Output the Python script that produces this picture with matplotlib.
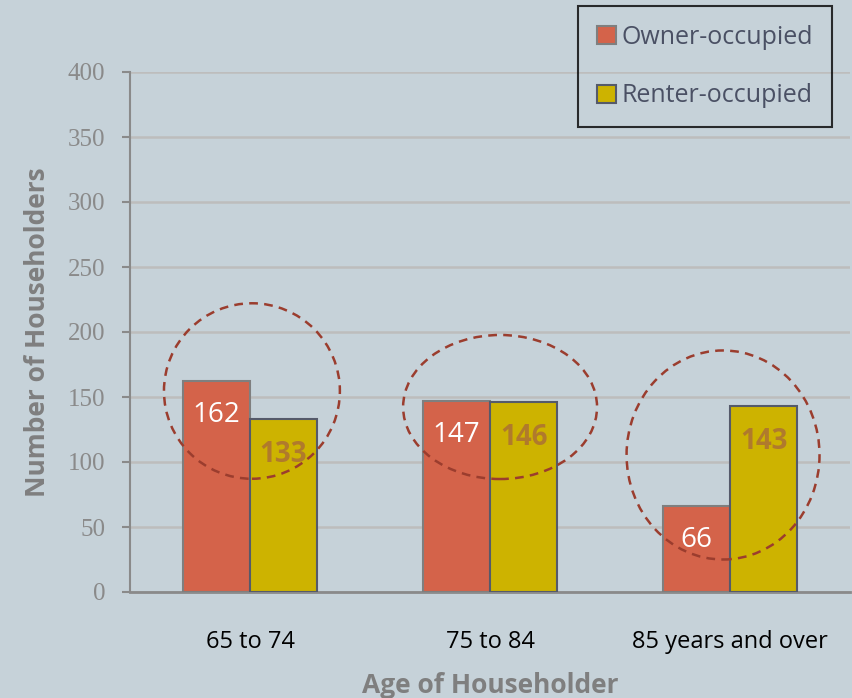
import matplotlib.pyplot as plt
import numpy as np
from matplotlib.patches import Ellipse

# Data
categories = ['65 to 74', '75 to 84', '85 years and over']
owner = [162, 147, 66]
renter = [133, 146, 143]
yticks = [0, 50, 100, 150, 200, 250, 300, 350, 400]

bg = '#c6d2d9'
owner_color = '#d4634a'
renter_color = '#cdb300'

fig = plt.figure(figsize=(8.52, 6.98), dpi=100)
fig.patch.set_facecolor(bg)
ax = fig.add_axes([130 / 852, 106 / 698, 720 / 852, 520 / 698])
ax.set_facecolor(bg)

x = np.arange(len(categories))
w = 0.28

b1 = ax.bar(x - w / 2, owner, w, color=owner_color, edgecolor='#7f7f7f', linewidth=1.5,
            label='Owner-occupied', zorder=3)
b2 = ax.bar(x + w / 2, renter, w, color=renter_color, edgecolor='#555a6a', linewidth=1.5,
            label='Renter-occupied', zorder=3)

# value labels
for xi, v in zip(x, owner):
    ax.text(xi - w / 2, v - 26, str(v), ha='center', va='center', color='white',
            fontsize=20, family='Open Sans', zorder=5)
for xi, v in zip(x, renter):
    ax.text(xi + w / 2, v - 27, str(v), ha='center', va='center', color='#b07a2c',
            fontsize=20, family='Open Sans', fontweight='bold', zorder=5)

# dashed highlight circles (center x, center y, width, height)
circles = [(0.008, 154.6, 0.733, 135.0),
           (1.042, 142.3, 0.808, 110.8),
           (1.971, 105.4, 0.804, 160.8)]
for cx, cy, cw, ch in circles:
    ax.add_patch(Ellipse((cx, cy), cw, ch, fill=False, edgecolor='#9b3d2e',
                         linestyle=(0, (3.5, 2.5)), linewidth=1.8, zorder=6))

ax.set_xlim(-0.5, 2.5)
ax.set_ylim(0, 400)
ax.set_yticks(yticks)
ax.set_yticklabels([str(t) for t in yticks], family='Liberation Serif', fontsize=18, color='#8a8a8a')
ax.set_xticks(x)
ax.set_xticklabels(categories, family='Open Sans', fontsize=17, color='black')
ax.tick_params(axis='x', length=0, pad=27)
ax.tick_params(axis='y', length=6, width=1.5, color='#8a8a8a', pad=12)

ax.grid(axis='y', color='#bdbdbd', linewidth=1.8, zorder=0)
for s in ['top', 'right']:
    ax.spines[s].set_visible(False)
ax.spines['left'].set_color('#8a8a8a')
ax.spines['left'].set_linewidth(1.5)
ax.spines['bottom'].set_color('#8a8a8a')
ax.spines['bottom'].set_linewidth(2)

ax.set_ylabel('Number of Householders', family='Open Sans', fontsize=19, fontweight='bold',
              color='#7f7f7f', labelpad=12)
ax.set_xlabel('Age of Householder', family='Open Sans', fontsize=19, fontweight='bold',
              color='#7f7f7f', labelpad=13)

leg = fig.legend(handles=[b1, b2], loc='upper left', bbox_to_anchor=(578 / 852, 1 - 6 / 698),
                 borderaxespad=0, frameon=True, fancybox=False, handlelength=0.75,
                 handleheight=0.75, handletextpad=0.25, labelspacing=1.35, borderpad=0.75,
                 prop={'family': 'Open Sans', 'size': 18})
leg.get_frame().set_facecolor('none')
leg.get_frame().set_edgecolor('black')
leg.get_frame().set_linewidth(1.5)
for t in leg.get_texts():
    t.set_color('#4a5064')

fig.savefig('out.png', dpi=100, facecolor=bg)
